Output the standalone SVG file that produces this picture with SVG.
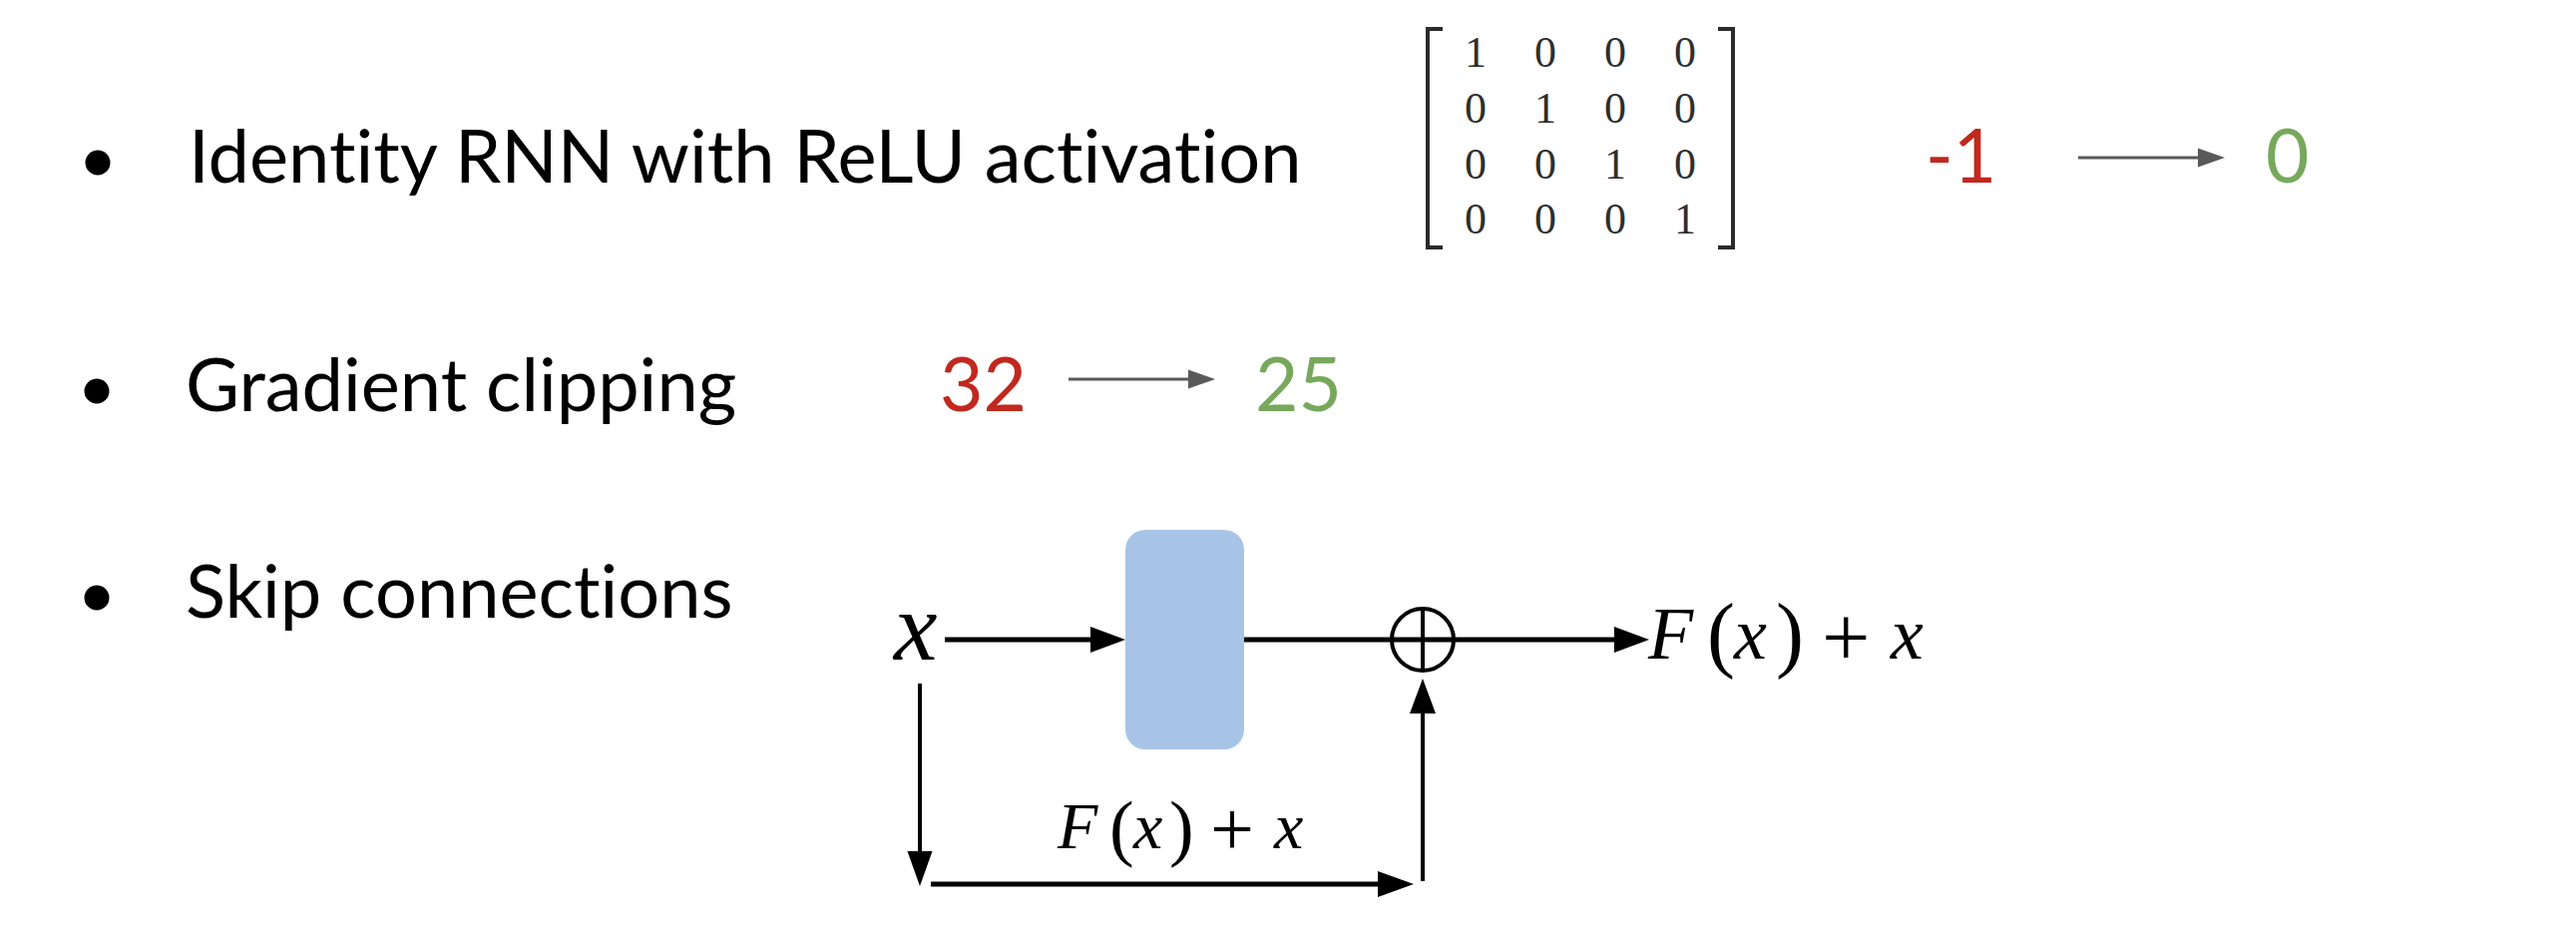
<svg xmlns="http://www.w3.org/2000/svg" width="2582" height="948" viewBox="0 0 2582 948">
<style>
.body{font-family:Lato,"Open Sans","Liberation Sans",sans-serif;font-size:74px;fill:#000;font-variant-ligatures:none;font-feature-settings:"liga" 0}
.num{font-family:Lato,"Open Sans","Liberation Sans",sans-serif;font-size:75px}
.red{fill:#c1281e}
.green{fill:#77a85b}
.mat{font-family:"Liberation Serif","DejaVu Serif",serif;font-size:44px;fill:#2e2e2e;text-anchor:middle}
.math{font-family:"Liberation Serif","DejaVu Serif",serif;fill:#000}
.it{font-style:italic}
.gline{stroke:#595959;stroke-width:3;fill:none}
.ghead{fill:#595959}
.bline{stroke:#000;fill:none}
.bhead{fill:#000}
.bracket{stroke:#2b2b2b;stroke-width:4;fill:none}
</style>
<rect width="2582" height="948" fill="#fff"/>

<g id="bullet1">
<circle cx="98" cy="163" r="12.5" fill="#000"/>
<text class="body" x="189" y="183">Identity RNN with ReLU activation</text>
</g>
<g id="matrix">
<path class="bracket" d="M1446,29 H1431 V248 H1446"/>
<path class="bracket" d="M1722,29 H1737 V248 H1722"/>
<text class="mat" y="67"><tspan x="1479">1</tspan><tspan x="1549">0</tspan><tspan x="1619">0</tspan><tspan x="1689">0</tspan></text>
<text class="mat" y="123"><tspan x="1479">0</tspan><tspan x="1549">1</tspan><tspan x="1619">0</tspan><tspan x="1689">0</tspan></text>
<text class="mat" y="179"><tspan x="1479">0</tspan><tspan x="1549">0</tspan><tspan x="1619">1</tspan><tspan x="1689">0</tspan></text>
<text class="mat" y="234"><tspan x="1479">0</tspan><tspan x="1549">0</tspan><tspan x="1619">0</tspan><tspan x="1689">1</tspan></text>
</g>
<g id="relu-before"><text class="num red" x="1930" y="183">-1</text></g>
<g id="relu-after"><text class="num green" x="2271" y="183">0</text></g>

<g id="bullet2">
<circle cx="97" cy="392" r="12.5" fill="#000"/>
<text class="body" x="186" y="412">Gradient clipping</text>
</g>
<g id="clip-before"><text class="num red" x="942" y="412">32</text></g>
<g id="clip-after"><text class="num green" x="1258" y="412">25</text></g>

<g id="bullet3">
<circle cx="97" cy="599" r="12.5" fill="#000"/>
<text class="body" x="186" y="619">Skip connections</text>
</g>

<g id="input-x"><text class="math it" x="896" y="661" font-size="98">x</text></g>
<g id="block"><rect x="1128" y="531" width="119" height="220" rx="20" ry="20" fill="#a7c4e6"/></g>
<g id="sum">
<circle cx="1426" cy="641" r="31" fill="none" stroke="#000" stroke-width="4"/>
<line x1="1426" y1="610" x2="1426" y2="672" stroke="#000" stroke-width="4"/>
</g>
<g id="output-label">
<text class="math" font-size="74"><tspan class="it" x="1652" y="660">F</tspan><tspan x="1711" y="663" font-size="84">(</tspan><tspan class="it" x="1738" y="660">x</tspan><tspan x="1780" y="663" font-size="84">)</tspan><tspan x="1826" y="668" font-size="86">+</tspan><tspan class="it" x="1895" y="660">x</tspan></text>
</g>
<g id="skip-label">
<text class="math" font-size="66"><tspan class="it" x="1060" y="850">F</tspan><tspan x="1112" y="854" font-size="74">(</tspan><tspan class="it" x="1136" y="850">x</tspan><tspan x="1172" y="854" font-size="74">)</tspan><tspan x="1213" y="857" font-size="78">+</tspan><tspan class="it" x="1277" y="850">x</tspan></text>
</g>

<g id="connectors">
<line class="gline" x1="2083" y1="158" x2="2204" y2="158"/>
<polygon class="ghead" points="2203,148.5 2230,158 2203,167.5"/>
<line class="gline" x1="1071" y1="380" x2="1192" y2="380"/>
<polygon class="ghead" points="1191,370.5 1218,380 1191,389.5"/>

<line class="bline" stroke-width="5" x1="947" y1="641" x2="1095" y2="641"/>
<polygon class="bhead" points="1093,628 1128,641 1093,654"/>
<line class="bline" stroke-width="5" x1="1247" y1="641" x2="1620" y2="641"/>
<polygon class="bhead" points="1618,628 1653,641 1618,654"/>
<line class="bline" stroke-width="4" x1="922" y1="685" x2="922" y2="855"/>
<polygon class="bhead" points="909.5,853 922,888 934.5,853"/>
<line class="bline" stroke-width="5" x1="933" y1="886" x2="1383" y2="886"/>
<polygon class="bhead" points="1381,873 1417,886 1381,899"/>
<line class="bline" stroke-width="4" x1="1426" y1="883" x2="1426" y2="713"/>
<polygon class="bhead" points="1413,715 1426,680 1439,715"/>
</g>
</svg>
